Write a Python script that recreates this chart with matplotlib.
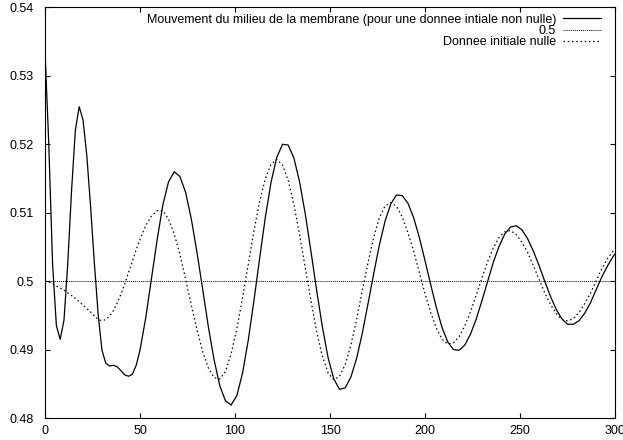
import matplotlib
matplotlib.use("Agg")
import matplotlib.pyplot as plt
from matplotlib.ticker import FuncFormatter

plt.rcParams['font.family'] = ['Liberation Sans', 'DejaVu Sans']
plt.rcParams['font.size'] = 9
plt.rcParams['axes.linewidth'] = 0.8
plt.rcParams['xtick.direction'] = 'in'
plt.rcParams['ytick.direction'] = 'in'
plt.rcParams['xtick.major.size'] = 3.5
plt.rcParams['ytick.major.size'] = 3.5
plt.rcParams['xtick.top'] = True
plt.rcParams['ytick.right'] = True

# sample times
t = [0, 2, 4, 6, 8, 10, 12, 14, 16, 18, 20, 22, 24, 26, 28, 30, 32, 34, 36, 38,
     40, 42, 44, 46, 48, 50, 53, 56, 59, 62, 65, 68, 71, 74, 77, 80, 83, 86, 89,
     92, 95, 98, 101, 104, 107, 110, 113, 116, 119, 122, 125, 128, 131, 134, 137,
     140, 143, 146, 149, 152, 155, 158, 161, 164, 167, 170, 173, 176, 179, 182,
     185, 188, 191, 194, 197, 200, 203, 206, 209, 212, 215, 218, 221, 224, 227,
     230, 233, 236, 239, 242, 245, 248, 251, 254, 257, 260, 263, 266, 269, 272,
     275, 278, 281, 284, 287, 290, 293, 296, 299, 300]

# middle of the membrane, non-zero initial data
milieu = [0.5338, 0.5200, 0.5025, 0.4935, 0.4915, 0.4943, 0.5026, 0.5133, 0.5221, 0.5255,
          0.5236, 0.5184, 0.5109, 0.5026, 0.4951, 0.4899, 0.4880, 0.4876, 0.4877, 0.4875,
          0.4869, 0.4863, 0.4861, 0.4864, 0.4877, 0.4899, 0.4946, 0.5003, 0.5060, 0.5111,
          0.5145, 0.5160, 0.5153, 0.5130, 0.5091, 0.5042, 0.4988, 0.4933, 0.4885, 0.4847,
          0.4825, 0.4819, 0.4833, 0.4866, 0.4914, 0.4972, 0.5034, 0.5094, 0.5145, 0.5181,
          0.5200, 0.5199, 0.5180, 0.5145, 0.5098, 0.5043, 0.4986, 0.4933, 0.4888, 0.4857,
          0.4842, 0.4844, 0.4860, 0.4887, 0.4924, 0.4967, 0.5011, 0.5053, 0.5088, 0.5113,
          0.5126, 0.5125, 0.5114, 0.5093, 0.5064, 0.5030, 0.4995, 0.4961, 0.4932, 0.4911,
          0.4900, 0.4899, 0.4907, 0.4923, 0.4945, 0.4972, 0.5000, 0.5028, 0.5051, 0.5069,
          0.5079, 0.5081, 0.5075, 0.5062, 0.5044, 0.5023, 0.5000, 0.4978, 0.4959, 0.4945,
          0.4937, 0.4937, 0.4942, 0.4953, 0.4968, 0.4987, 0.5006, 0.5022, 0.5036, 0.5040]

# zero initial data
nulle = [0.5000, 0.4999, 0.4996, 0.4993, 0.4990, 0.4987, 0.4983, 0.4979, 0.4975, 0.4970,
         0.4965, 0.4960, 0.4955, 0.4949, 0.4944, 0.4942, 0.4944, 0.4949, 0.4957, 0.4968,
         0.4981, 0.4996, 0.5013, 0.5029, 0.5046, 0.5061, 0.5081, 0.5095, 0.5103, 0.5103,
         0.5091, 0.5069, 0.5039, 0.5003, 0.4965, 0.4929, 0.4897, 0.4873, 0.4859, 0.4857,
         0.4868, 0.4894, 0.4931, 0.4976, 0.5025, 0.5074, 0.5117, 0.5150, 0.5171, 0.5178,
         0.5170, 0.5147, 0.5112, 0.5068, 0.5019, 0.4971, 0.4926, 0.4890, 0.4866, 0.4856,
         0.4861, 0.4878, 0.4907, 0.4944, 0.4986, 0.5027, 0.5064, 0.5093, 0.5110, 0.5115,
         0.5109, 0.5094, 0.5071, 0.5044, 0.5013, 0.4982, 0.4954, 0.4931, 0.4915, 0.4908,
         0.4910, 0.4919, 0.4935, 0.4956, 0.4980, 0.5005, 0.5029, 0.5049, 0.5064, 0.5072,
         0.5074, 0.5068, 0.5057, 0.5042, 0.5023, 0.5003, 0.4983, 0.4966, 0.4953, 0.4944,
         0.4942, 0.4945, 0.4954, 0.4967, 0.4982, 0.5000, 0.5018, 0.5033, 0.5044, 0.5047]

niveau = 0.5
xticks = [0, 50, 100, 150, 200, 250, 300]
yticks = [0.48, 0.49, 0.50, 0.51, 0.52, 0.53, 0.54]

fig = plt.figure(figsize=(6.23, 4.40), dpi=100)
ax = fig.add_axes([0.0722, 0.05, 0.915, 0.933])

ax.plot(t, milieu, color='black', lw=0.9,
        label='Mouvement du milieu de la membrane (pour une donnee intiale non nulle)')
ax.axhline(niveau, color='black', lw=0.7, dashes=(1, 1), label='0.5')
ax.plot(t, nulle, color='black', lw=0.9, dashes=(1.2, 2.2), label='Donnee initiale nulle')

ax.set_xlim(0, 300)
ax.set_ylim(0.48, 0.54)
ax.set_xticks(xticks)
ax.set_yticks(yticks)
ax.yaxis.set_major_formatter(FuncFormatter(lambda v, p: '%g' % round(v, 4)))
ax.tick_params(axis='y', pad=8)
ax.tick_params(axis='x', pad=5)

ax.legend(loc='upper right', bbox_to_anchor=(0.9835, 0.997), frameon=False,
          markerfirst=False, handlelength=3.0, handletextpad=0.55,
          labelspacing=-0.05, borderaxespad=0, fontsize=9)

fig.savefig('out.png', dpi=100)
